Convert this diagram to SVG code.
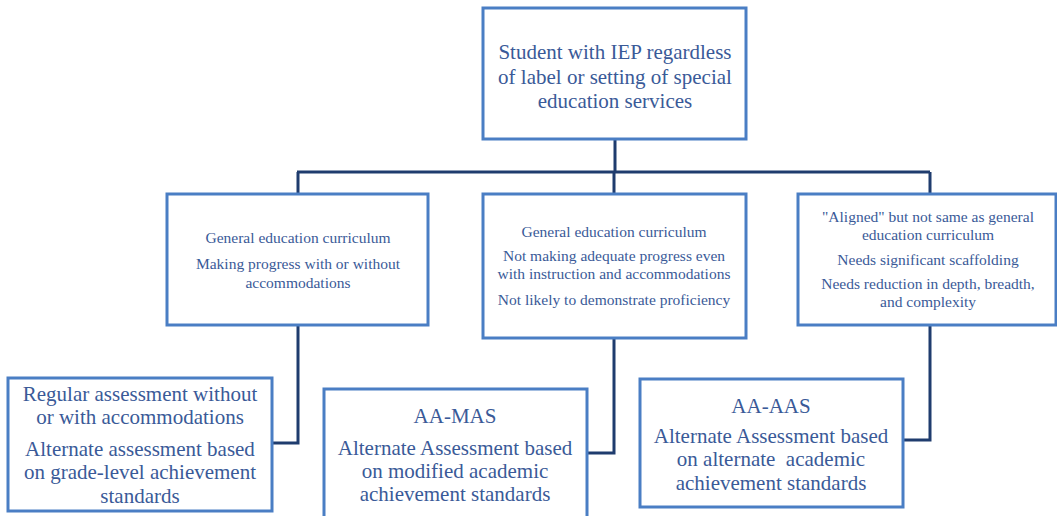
<svg xmlns="http://www.w3.org/2000/svg" width="1057" height="516" viewBox="0 0 1057 516">
<style>
.box{fill:#fff;stroke:#4a7ec4;stroke-width:3}
.conn{fill:none;stroke:#1f3c6e;stroke-width:3}
.big{font-size:21px}
.sm{font-size:15.5px}
</style>
<rect width="1057" height="516" fill="#fff"/>
<g id="connectors">
<path class="conn" d="M615 139V172M297 172H930M298 172V194M614 172V194M930 172V194"/>
<path class="conn" d="M298 325V443H272"/>
<path class="conn" d="M614 338V453H587"/>
<path class="conn" d="M930 325V440H903"/>
</g>
<g font-family="Liberation Serif, Times New Roman, serif" fill="#3a5a98" text-anchor="middle">
<g id="top">
<rect class="box" x="483" y="8" width="263" height="131"/>
<text class="big" x="615" y="59">Student with IEP regardless</text>
<text class="big" x="615" y="84">of label or setting of special</text>
<text class="big" x="615" y="108">education services</text>
</g>
<g id="gen1">
<rect class="box" x="167" y="194" width="261" height="131"/>
<text class="sm" x="298" y="243">General education curriculum</text>
<text class="sm" x="298" y="269">Making progress with or without</text>
<text class="sm" x="298" y="288">accommodations</text>
</g>
<g id="gen2">
<rect class="box" x="483" y="194" width="263" height="144"/>
<text class="sm" x="614" y="237">General education curriculum</text>
<text class="sm" x="614" y="261">Not making adequate progress even</text>
<text class="sm" x="614" y="279">with instruction and accommodations</text>
<text class="sm" x="614" y="305">Not likely to demonstrate proficiency</text>
</g>
<g id="aligned">
<rect class="box" x="798" y="194" width="258" height="131"/>
<text class="sm" x="928" y="222">"Aligned" but not same as general</text>
<text class="sm" x="928" y="240">education curriculum</text>
<text class="sm" x="928" y="265">Needs significant scaffolding</text>
<text class="sm" x="928" y="289">Needs reduction in depth, breadth,</text>
<text class="sm" x="928" y="307">and complexity</text>
</g>
<g id="regular">
<rect class="box" x="8" y="378" width="264" height="133"/>
<text class="big" x="140" y="401">Regular assessment without</text>
<text class="big" x="140" y="424">or with accommodations</text>
<text class="big" x="140" y="456">Alternate assessment based</text>
<text class="big" x="140" y="479">on grade-level achievement</text>
<text class="big" x="140" y="503">standards</text>
</g>
<g id="aamas">
<rect class="box" x="324" y="389" width="263" height="130"/>
<text class="big" x="455" y="423">AA-MAS</text>
<text class="big" x="455" y="455">Alternate Assessment based</text>
<text class="big" x="455" y="478">on modified academic</text>
<text class="big" x="455" y="501">achievement standards</text>
</g>
<g id="aaaas">
<rect class="box" x="640" y="379" width="263" height="128"/>
<text class="big" x="771" y="413">AA-AAS</text>
<text class="big" x="771" y="443">Alternate Assessment based</text>
<text class="big" x="771" y="466" xml:space="preserve">on alternate  academic</text>
<text class="big" x="771" y="490">achievement standards</text>
</g>
</g>
</svg>
